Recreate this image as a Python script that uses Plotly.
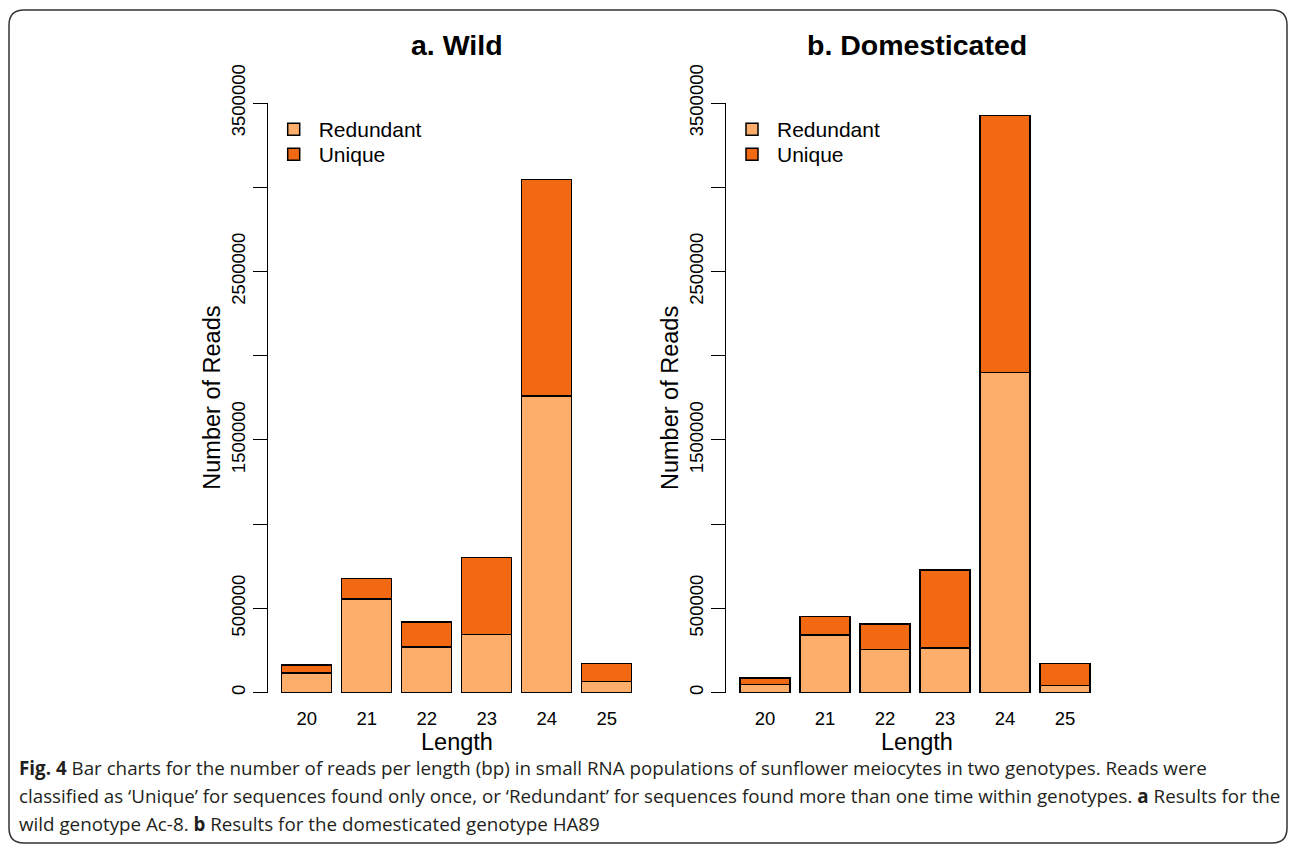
import plotly.graph_objects as go

# ---------------- data ----------------
lengths = ["20", "21", "22", "23", "24", "25"]
wild_redundant = [117000, 556000, 271000, 346000, 1762000, 67000]
wild_total = [164000, 676000, 419000, 801000, 3045000, 172000]
dom_redundant = [49000, 342000, 255000, 265000, 1900000, 43000]
dom_total = [87000, 451000, 407000, 728000, 3427000, 174000]
wild_unique = [t - r for t, r in zip(wild_total, wild_redundant)]
dom_unique = [t - r for t, r in zip(dom_total, dom_redundant)]

y_tickvals = [0, 500000, 1000000, 1500000, 2000000, 2500000, 3000000, 3500000]
y_ticktext = ["0", "500000", "", "1500000", "", "2500000", "", "3500000"]

panel_titles = ["a. Wild", "b. Domesticated"]
caption_lines = [
    "<b>Fig. 4</b> Bar charts for the number of reads per length (bp) in small RNA populations of sunflower meiocytes in two genotypes. Reads were",
    "classified as \u2018Unique\u2019 for sequences found only once, or \u2018Redundant\u2019 for sequences found more than one time within genotypes. <b>a</b> Results for the",
    "wild genotype Ac-8. <b>b</b> Results for the domesticated genotype HA89",
]

# ---------------- styling ----------------
W, H = 1290, 850
C_RED = "#fdae6b"
C_UNI = "#f16913"
FONT = "Liberation Sans, Arial, sans-serif"

def px(x):
    return x / W

def py(y):
    return 1 - y / H

fig = go.Figure()

# each legend entry gets its own legend box so that spacing matches the reference
panels = [
    ("x", "y", wild_redundant, wild_unique, "legend", "legend2"),
    ("x2", "y2", dom_redundant, dom_unique, "legend3", "legend4"),
]
for xa, ya, red, uni, lg_r, lg_u in panels:
    fig.add_trace(go.Bar(x=lengths, y=red, name="Redundant", xaxis=xa, yaxis=ya,
                         marker=dict(color=C_RED, line=dict(color="black", width=1.5)),
                         legend=lg_r, showlegend=True))
    fig.add_trace(go.Bar(x=lengths, y=uni, name="Unique", xaxis=xa, yaxis=ya,
                         marker=dict(color=C_UNI, line=dict(color="black", width=1.5)),
                         legend=lg_u, showlegend=True))

# axis pixel positions
ax_left = [267.7, 726.0]
plot_w = 378.0
y_top, y_bot = 103.0, 693.0

xcommon = dict(type="category", range=[-0.65, 5.65], showline=False, showgrid=False,
               zeroline=False, ticks="outside", ticklen=9, tickcolor="rgba(0,0,0,0)",
               tickfont=dict(family=FONT, size=18.5, color="black"),
               automargin=False, fixedrange=True)
ycommon = dict(range=[-2500, 3500000], showline=True, linecolor="black", linewidth=1.3,
               showgrid=False, zeroline=False, ticks="outside", ticklen=14, tickwidth=1.3,
               tickcolor="black", tickvals=y_tickvals, ticktext=y_ticktext, tickangle=-90,
               tickfont=dict(family=FONT, size=18.5, color="black"),
               automargin=False, fixedrange=True)

layout = dict(
    template="none",
    width=W, height=H, autosize=False,
    margin=dict(l=0, r=0, t=0, b=0, pad=0),
    paper_bgcolor="white", plot_bgcolor="white",
    barmode="stack", bargap=1 / 6,
    showlegend=True,
    font=dict(family=FONT, color="black"),
)
legend_names = [("legend", "legend2"), ("legend3", "legend4")]
for i, name in enumerate(["", "2"]):
    x0 = ax_left[i]
    layout["xaxis" + name] = dict(xcommon, domain=[px(x0), px(x0 + plot_w)], anchor="y" + name)
    layout["yaxis" + name] = dict(ycommon, domain=[py(y_bot), py(y_top)], anchor="x" + name)
    for j, lname in enumerate(legend_names[i]):
        layout[lname] = dict(
            x=px(x0 + 1), y=py(109 + 25 * j), xanchor="left", yanchor="top",
            bgcolor="rgba(0,0,0,0)", borderwidth=0, itemwidth=40, visible=True,
            font=dict(family=FONT, size=21, color="black"),
        )
fig.update_layout(**layout)

annotations = []
title_cx = [456.7, 917.0]
for i in range(2):
    annotations.append(dict(text="<b>%s</b>" % panel_titles[i], x=px(title_cx[i]), y=py(45),
                            xref="paper", yref="paper", showarrow=False, xanchor="center",
                            yanchor="middle", font=dict(family=FONT, size=28.5, color="black")))
    annotations.append(dict(text="Length", x=px(title_cx[i]), y=py(742),
                            xref="paper", yref="paper", showarrow=False, xanchor="center",
                            yanchor="middle", font=dict(family=FONT, size=23.5, color="black")))
    annotations.append(dict(text="Number of Reads", x=px(ax_left[i] - 56), y=py(398),
                            xref="paper", yref="paper", showarrow=False, xanchor="center",
                            yanchor="middle", textangle=-90,
                            font=dict(family=FONT, size=23.5, color="black")))
for k, line in enumerate(caption_lines):
    annotations.append(dict(text=line, x=px(17), y=py(768 + 28 * k), xref="paper", yref="paper",
                            showarrow=False, xanchor="left", yanchor="middle", align="left",
                            font=dict(family="Open Sans, sans-serif", size=18.8, color="#231f20")))
fig.update_layout(annotations=annotations)

# rounded border box
x0b, y0b, x1b, y1b, r = 9, 10, 1287, 843, 15
path = (f"M {px(x0b + r)},{py(y0b)} L {px(x1b - r)},{py(y0b)} "
        f"Q {px(x1b)},{py(y0b)} {px(x1b)},{py(y0b + r)} "
        f"L {px(x1b)},{py(y1b - r)} Q {px(x1b)},{py(y1b)} {px(x1b - r)},{py(y1b)} "
        f"L {px(x0b + r)},{py(y1b)} Q {px(x0b)},{py(y1b)} {px(x0b)},{py(y1b - r)} "
        f"L {px(x0b)},{py(y0b + r)} Q {px(x0b)},{py(y0b)} {px(x0b + r)},{py(y0b)} Z")
fig.add_shape(type="path", path=path, xref="paper", yref="paper",
              line=dict(color="#333333", width=1.5), fillcolor="rgba(0,0,0,0)", layer="above")

fig.write_html("out.html")
